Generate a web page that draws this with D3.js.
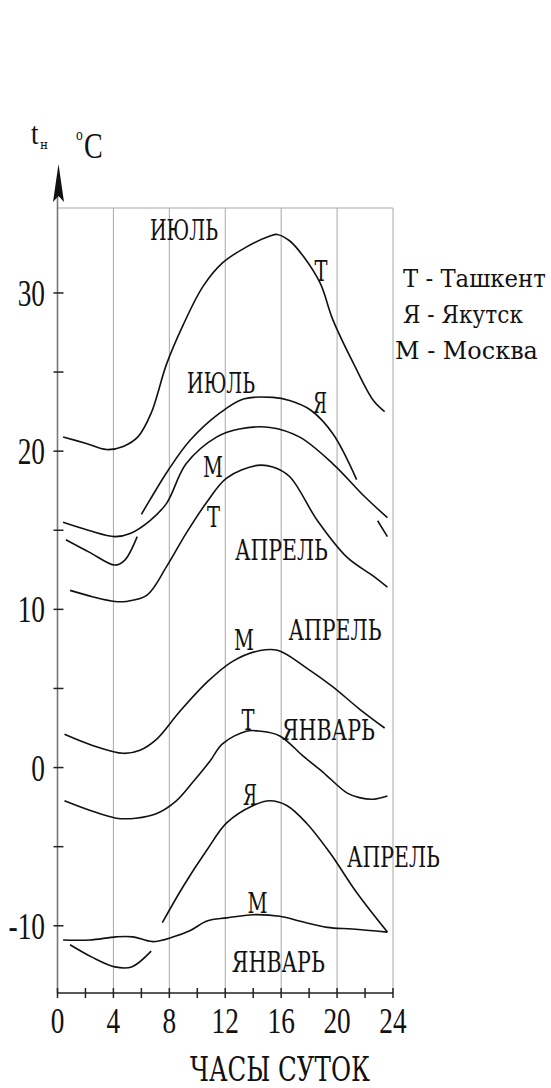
<!DOCTYPE html>
<html><head><meta charset="utf-8">
<script src="https://cdn.jsdelivr.net/npm/d3@7"></script>
<style>
body{margin:0;background:#fff}
svg{display:block}
text{font-family:"Liberation Serif",serif;fill:#111}
text.cyr{font-family:"DejaVu Serif","Liberation Serif",serif}
</style>
</head><body>
<svg id="chart" width="551" height="1088"></svg>
<script>
// ---------- data ----------
const hourTicks = [0, 4, 8, 12, 16, 20, 24];
const hourMinorTicks = [0, 2, 4, 6, 8, 10, 12, 14, 16, 18, 20, 22, 24];
const tempTicks = [30, 20, 10, 0, -10];
const tempMinorTicks = [25, 15, 5, -5];
const gridHours = [4, 8, 12, 16, 20, 24];
const yTitle = "t";
const yTitleSub = "н";
const yUnit = "C";
const xTitle = "ЧАСЫ СУТОК";
const legendLines = ["Т - Ташкент", "Я - Якутск", "М - Москва"];

// Ташкент, июль
const tashkentJulyH = [0.4, 2, 3.5, 4.7, 5.75, 6.7, 7.8, 9.0, 10.4, 11.8, 13.5, 15.2, 15.7, 16.6, 17.6, 18.8, 19.7, 21.2, 22.6, 23.4];
const tashkentJulyT = [20.9, 20.5, 20.1, 20.3, 20.9, 22.4, 25.5, 28.0, 30.4, 31.9, 32.9, 33.6, 33.7, 33.3, 32.3, 30.6, 28.3, 25.5, 23.2, 22.5];
// Якутск, июль (broken into pieces, null = gap)
const yakutskJulyH = [0.6, 2.3, 4.1, 4.8, 5.7, null, 6.0, 6.6, 8.0, 9.5, 11.6, 13.3, 15.4, 16.6, 18.1, 19.7, 21.4, null, 22.9, 23.6];
const yakutskJulyT = [14.4, 13.6, 12.8, 13.1, 14.6, null, 16.0, 16.9, 18.9, 20.7, 22.4, 23.3, 23.4, 23.2, 22.6, 21.1, 18.2, null, 15.6, 14.6];
// Москва, июль
const moscowJulyH = [0.4, 2.2, 4.1, 5.2, 6.6, 7.8, 9.2, 11.4, 13.0, 15.2, 17.3, 19.7, 22.0, 23.6];
const moscowJulyT = [15.5, 15.0, 14.6, 14.8, 15.6, 16.7, 19.2, 20.9, 21.4, 21.5, 20.9, 19.2, 17.1, 15.8];
// Ташкент, апрель
const tashkentAprilH = [0.9, 2.5, 4.1, 4.9, 6.4, 7.8, 9.2, 10.7, 12.1, 14.3, 15.4, 16.6, 18.6, 20.7, 22.6, 23.6];
const tashkentAprilT = [11.2, 10.8, 10.5, 10.5, 10.9, 12.7, 14.8, 16.8, 18.3, 19.1, 19.0, 18.4, 15.6, 13.3, 12.1, 11.4];
// Москва, апрель
const moscowAprilH = [0.5, 2.5, 4.7, 5.9, 7.1, 8.7, 10.7, 12.5, 14.5, 15.8, 17.8, 19.7, 21.6, 23.4];
const moscowAprilT = [2.1, 1.4, 0.9, 1.1, 1.8, 3.5, 5.4, 6.7, 7.4, 7.4, 6.3, 5.1, 3.7, 2.5];
// Ташкент, январь
const tashkentJanH = [0.5, 2.3, 4.2, 5.6, 7.1, 8.5, 9.7, 10.9, 11.8, 13.5, 14.5, 15.9, 17.6, 19.0, 20.7, 21.6, 22.6, 23.6];
const tashkentJanT = [-2.1, -2.7, -3.2, -3.2, -2.9, -2.1, -0.9, 0.4, 1.5, 2.3, 2.3, 2.0, 0.7, -0.3, -1.6, -1.9, -2.0, -1.8];
// Якутск, апрель
const yakutskAprilH = [7.5, 9.0, 10.7, 12.1, 14.0, 15.2, 16.4, 17.8, 19.5, 21.4, 23.6];
const yakutskAprilT = [-9.8, -7.5, -5.2, -3.5, -2.4, -2.1, -2.4, -3.5, -5.4, -7.9, -10.4];
// Москва, январь
const moscowJanH = [0.4, 2.3, 4.2, 5.4, 6.8, 8.3, 9.5, 10.7, 12.1, 14.0, 15.9, 17.3, 19.3, 21.1, 23.6];
const moscowJanT = [-10.9, -10.9, -10.7, -10.7, -11.0, -10.7, -10.3, -9.7, -9.5, -9.3, -9.4, -9.7, -10.1, -10.2, -10.4];
// Якутск, январь (only night part shown)
const yakutskJanH = [0.9, 2.5, 4.1, 5.3, 6.7];
const yakutskJanT = [-11.2, -12.0, -12.6, -12.6, -11.6];

// curve labels: text, hour, temperature (centre of text baseline)
const labelText = ["ИЮЛЬ", "Т", "ИЮЛЬ", "Я", "М", "Т", "АПРЕЛЬ", "АПРЕЛЬ", "М", "Т", "ЯНВАРЬ", "Я", "АПРЕЛЬ", "М", "ЯНВАРЬ"];
const labelHour = [9.05, 18.85, 11.7, 18.78, 11.12, 11.16, 16.02, 19.85, 13.34, 13.63, 19.38, 13.77, 24.03, 14.3, 15.8];
const labelTemp = [33.35, 30.76, 23.68, 22.4, 18.37, 15.21, 13.12, 8.07, 7.43, 2.38, 1.74, -2.37, -6.28, -9.2, -12.92];

const seriesList = [
  [tashkentJulyH, tashkentJulyT],
  [yakutskJulyH, yakutskJulyT],
  [moscowJulyH, moscowJulyT],
  [tashkentAprilH, tashkentAprilT],
  [moscowAprilH, moscowAprilT],
  [tashkentJanH, tashkentJanT],
  [yakutskAprilH, yakutskAprilT],
  [moscowJanH, moscowJanT],
  [yakutskJanH, yakutskJanT]
];

// ---------- layout ----------
const svg = d3.select("#chart");
const pLeft = 57.5, pRight = 393, pTop = 208, pBottom = 993;
const x = d3.scaleLinear().domain([0, 24]).range([pLeft, pRight]);
const y = d3.scaleLinear().domain([-14.25, 35.37]).range([pBottom, pTop]);

// squeeze a text horizontally to a target width (anchor: 0 start, 0.5 middle)
function fitText(sel, px, py, width, anchor) {
  sel.each(function (d, i) {
    const t = d3.select(this);
    const w = typeof width === "function" ? width(d, i) : width;
    const ax = typeof px === "function" ? px(d, i) : px;
    const ay = typeof py === "function" ? py(d, i) : py;
    const a = typeof anchor === "function" ? anchor(d, i) : anchor;
    const nat = this.getComputedTextLength() || w;
    const s = w / nat;
    t.attr("text-anchor", "start")
     .attr("transform", `translate(${ax - a * w},${ay}) scale(${s},1)`);
  });
}

// grid
svg.append("g").selectAll("line").data(gridHours).join("line")
  .attr("x1", d => x(d)).attr("x2", d => x(d))
  .attr("y1", pTop).attr("y2", pBottom)
  .attr("stroke", "#a8a8a8").attr("stroke-width", 1);
svg.append("line").attr("x1", pLeft).attr("x2", pRight).attr("y1", pTop).attr("y2", pTop)
  .attr("stroke", "#a8a8a8").attr("stroke-width", 1.2);

// y axis line + arrow
svg.append("line").attr("x1", pLeft).attr("x2", pLeft).attr("y1", 196).attr("y2", pBottom)
  .attr("stroke", "#777").attr("stroke-width", 1.6);
svg.append("path").attr("d", `M${pLeft + 1},164 L${pLeft + 6.5},202 L${pLeft + 1},196 L${pLeft - 4.5},202 Z`)
  .attr("fill", "#111");

// y ticks
svg.append("g").selectAll("line").data(tempTicks.concat(tempMinorTicks)).join("line")
  .attr("x1", pLeft - 4).attr("x2", pLeft + 6)
  .attr("y1", d => y(d)).attr("y2", d => y(d))
  .attr("stroke", "#222").attr("stroke-width", 1.5);
svg.append("g").selectAll("text").data(tempTicks).join("text")
  .attr("transform", d => `translate(45,${y(d) + 13}) scale(0.72,1)`)
  .attr("text-anchor", "end").attr("font-size", 38)
  .text(d => d);

// x axis
svg.append("line").attr("x1", pLeft).attr("x2", pRight).attr("y1", pBottom).attr("y2", pBottom)
  .attr("stroke", "#222").attr("stroke-width", 1.5);
svg.append("g").selectAll("line").data(hourMinorTicks).join("line")
  .attr("x1", d => x(d)).attr("x2", d => x(d))
  .attr("y1", pBottom - 5).attr("y2", pBottom + 5)
  .attr("stroke", "#222").attr("stroke-width", 1.5);
svg.append("g").selectAll("text").data(hourTicks).join("text")
  .attr("transform", d => `translate(${x(d)},1033) scale(0.78,1)`)
  .attr("text-anchor", "middle").attr("font-size", 35)
  .text(d => d);
svg.append("text").attr("class", "cyr").attr("font-size", 34).text(xTitle)
  .call(fitText, 280, 1081, 180, 0.5);

// y title
svg.append("text").attr("transform", "translate(31,144) scale(0.85,1)")
  .attr("font-size", 32).text(yTitle);
svg.append("text").attr("class", "cyr").attr("font-size", 13).text(yTitleSub)
  .call(fitText, 40, 149, 8, 0);
svg.append("text").attr("transform", "translate(76,140) scale(0.8,1)")
  .attr("font-size", 17).text("o");
svg.append("text").attr("transform", "translate(84,158) scale(0.8,1)")
  .attr("font-size", 35).text(yUnit);

// legend
const legendX = [403, 403, 395];
const legendW = [143, 120, 143];
svg.append("g").selectAll("text").data(legendLines).join("text")
  .attr("class", "cyr").attr("font-size", 25)
  .text(d => d)
  .call(fitText, (d, i) => legendX[i], (d, i) => 287 + i * 36, (d, i) => legendW[i], 0);

// curves
const line = d3.line()
  .defined(d => d[1] != null)
  .x(d => x(d[0])).y(d => y(d[1]))
  .curve(d3.curveCatmullRom.alpha(0.5));
svg.append("g").selectAll("path").data(seriesList).join("path")
  .attr("d", s => line(s[0].map((h, i) => [h, s[1][i]])))
  .attr("fill", "none").attr("stroke", "#111").attr("stroke-width", 1.6)
  .attr("stroke-linejoin", "round");

// curve labels
const labelWidth = {"ИЮЛЬ": 68, "АПРЕЛЬ": 93, "ЯНВАРЬ": 93, "Т": 13, "Я": 14, "М": 20};
svg.append("g").selectAll("text").data(labelText).join("text")
  .attr("class", "cyr").attr("font-size", 28)
  .text(d => d)
  .call(fitText, (d, i) => x(labelHour[i]), (d, i) => y(labelTemp[i]), d => labelWidth[d], 0.5);
</script>
</body></html>
